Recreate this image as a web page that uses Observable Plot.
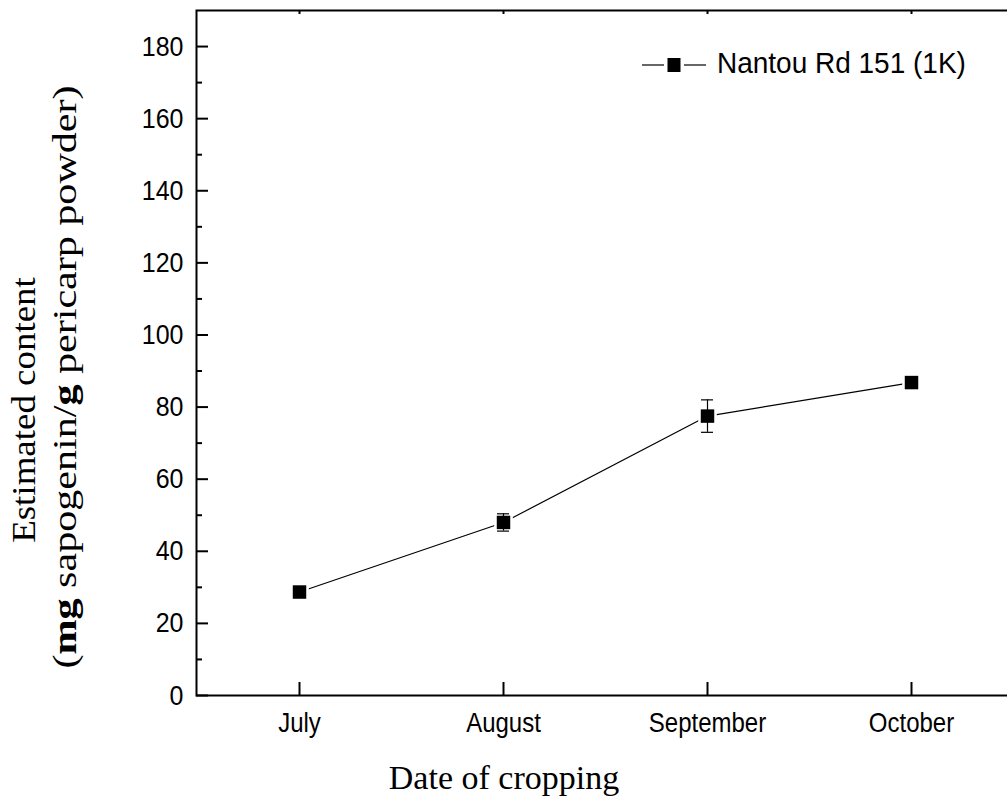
<!DOCTYPE html>
<html><head><meta charset="utf-8">
<script src="https://cdn.jsdelivr.net/npm/d3@7"></script>
<script src="https://cdn.jsdelivr.net/npm/@observablehq/plot@0.6"></script>
<style>html,body{margin:0;padding:0;background:#fff;overflow:hidden}</style>
</head><body><div id="chart"></div>
<script>
const months = ["July", "August", "September", "October"];
const content = [28.7, 48.0, 77.5, 86.8];
const errors = [1.0, 2.4, 4.5, 1.0];
const majorTicks = [0, 20, 40, 60, 80, 100, 120, 140, 160, 180];
const minorTicks = [10, 30, 50, 70, 90, 110, 130, 150, 170];
const seriesName = "Nantou Rd 151 (1K)";
const xTitle = "Date of cropping";
const yTitle1 = "Estimated content";
const yTitle2 = [["(", false], ["mg", true], [" sapogenin/", false], ["g", true], [" pericarp powder)", false]];

const data = months.map((m, i) => ({month: m, value: content[i], lo: content[i] - errors[i], hi: content[i] + errors[i]}));

const W = 1007, H = 798;
const sans = "'Liberation Sans', Arial, sans-serif";
const serif = "'Liberation Serif', 'Times New Roman', serif";

const plot = Plot.plot({
  width: W, height: H,
  marginLeft: 196, marginTop: 10, marginBottom: 103, marginRight: -6,
  x: {type: "band", domain: months, padding: 0},
  y: {domain: [0, 190]},
  style: {fontFamily: sans, fontSize: "24px", color: "#000", background: "#fff", overflow: "hidden"},
  marks: [
    Plot.axisY({ticks: minorTicks, tickSize: -6, strokeWidth: 2, text: null, label: null}),
    Plot.axisY({ticks: majorTicks, tickSize: -12, strokeWidth: 2, text: null, label: null}),
    Plot.axisY({ticks: majorTicks, tickSize: 0, tickPadding: 13, fontSize: 25, label: null}),
    Plot.axisX({tickSize: -13, strokeWidth: 2, text: null, label: null}),
    Plot.axisX({tickSize: 0, tickPadding: 17, fontSize: 24, label: null}),
    Plot.axisX({anchor: "top", tickSize: -3, strokeWidth: 2, text: null, label: null}),
    Plot.frame({strokeWidth: 2}),
    Plot.line(data, {x: "month", y: "value", strokeWidth: 1.2, stroke: "#000"}),
    Plot.dot(data, {x: "month", y: "value", symbol: "square", r: 10.5, fill: "#fff", stroke: "none"}),
    Plot.dot(data, {x: "month", y: "value", symbol: "square", r: 7.6, fill: "#000", stroke: "none"}),
    Plot.ruleX(data, {x: "month", y1: "lo", y2: "hi", strokeWidth: 1.2}),
    Plot.tickY(data, {x: "month", y: "lo", insetLeft: 96, insetRight: 96, strokeWidth: 1.2}),
    Plot.tickY(data, {x: "month", y: "hi", insetLeft: 96, insetRight: 96, strokeWidth: 1.2})
  ]
});
document.getElementById("chart").appendChild(plot);

const svg = d3.select(plot);
// stretch tick labels vertically like the reference
svg.selectAll("g[aria-label$='tick label'] text").each(function() {
  const t = this.getAttribute("transform") || "";
  this.setAttribute("transform", t + " scale(1,1.13)");
});

// Legend
const lg = svg.append("g");
lg.append("line").attr("x1", 642).attr("x2", 664).attr("y1", 65).attr("y2", 65).attr("stroke", "#000").attr("stroke-width", 1.2);
lg.append("line").attr("x1", 684).attr("x2", 706).attr("y1", 65).attr("y2", 65).attr("stroke", "#000").attr("stroke-width", 1.2);
lg.append("rect").attr("x", 667.5).attr("y", 58).attr("width", 13).attr("height", 14).attr("fill", "#000");
lg.append("text").attr("transform", "translate(717,73) scale(1,1.08)").attr("text-anchor", "start")
  .attr("font-family", sans).attr("font-size", 28).attr("fill", "#000").text(seriesName);

// X title
svg.append("text").attr("x", 504).attr("y", 789).attr("text-anchor", "middle")
  .attr("font-family", serif).attr("font-size", 34).attr("fill", "#000").text(xTitle);

// Y title
svg.append("text").attr("transform", "translate(35,410) rotate(-90) scale(1.12,1)").attr("text-anchor", "middle")
  .attr("font-family", serif).attr("font-size", 33).attr("fill", "#000").text(yTitle1);
const t2 = svg.append("text").attr("transform", "translate(76,377) rotate(-90) scale(1.22,1)").attr("text-anchor", "middle")
  .attr("font-family", serif).attr("font-size", 34.5).attr("fill", "#000");
yTitle2.forEach(([s, b]) => t2.append("tspan").attr("font-weight", b ? "bold" : "normal").text(s));
</script>
</body></html>
